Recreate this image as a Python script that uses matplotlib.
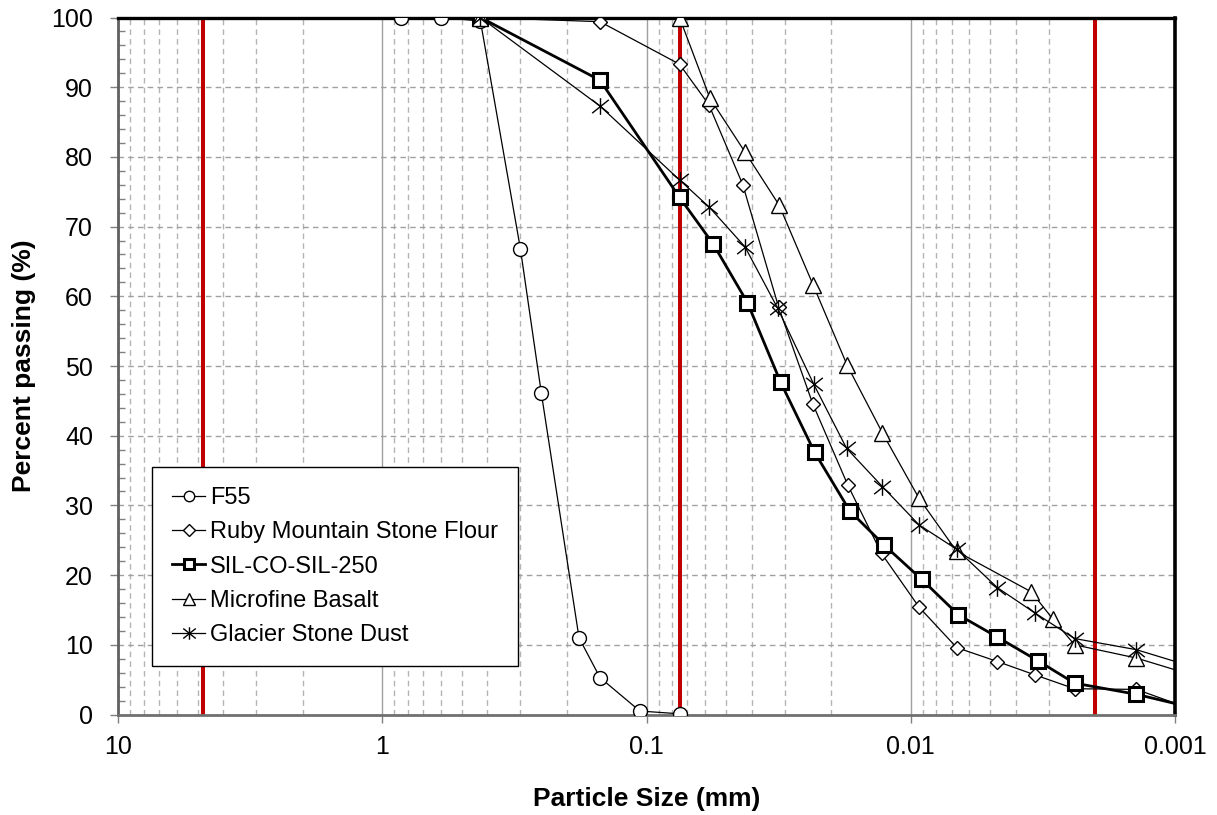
import numpy as np
import matplotlib
matplotlib.use("Agg")
import matplotlib.pyplot as plt
from matplotlib.path import Path
from matplotlib.ticker import FixedLocator, MultipleLocator, FuncFormatter

plt.rcParams['font.family'] = ['Liberation Sans', 'DejaVu Sans']

# sieve / hydrometer data (size in mm, percent passing)
f55_size = [0.85, 0.6, 0.425, 0.3, 0.25, 0.18, 0.15, 0.106, 0.075]
f55_pct = [100, 100, 99.5, 66.8, 46.1, 11.0, 5.3, 0.5, 0.1]

ruby_size = [0.425, 0.15, 0.075, 0.0581, 0.0432, 0.0316, 0.0235, 0.0173, 0.0129,
             0.0093, 0.0067, 0.0047, 0.0034, 0.0024, 0.0014, 0.0008]
ruby_pct = [100, 99.4, 93.3, 87.5, 76.0, 58.4, 44.6, 32.9, 23.1, 15.4, 9.6, 7.6,
            5.7, 3.7, 3.6, 0.3]

sil_size = [0.425, 0.15, 0.075, 0.0559, 0.0415, 0.0311, 0.0231, 0.0170, 0.0126,
            0.0091, 0.0066, 0.0047, 0.0033, 0.0024, 0.0014, 0.0008]
sil_pct = [100, 91.0, 74.2, 67.5, 59.1, 47.7, 37.6, 29.2, 24.3, 19.4, 14.3, 11.1,
           7.7, 4.5, 2.9, 0.7]

basalt_size = [0.425, 0.075, 0.0575, 0.0424, 0.0315, 0.0234, 0.0174, 0.0128,
               0.0093, 0.0067, 0.0035, 0.0029, 0.0024, 0.0014, 0.0008]
basalt_pct = [100, 100, 88.4, 80.7, 73.1, 61.6, 50.1, 40.4, 31.0, 23.4, 17.6,
              13.7, 10.0, 8.1, 5.3]

glacier_size = [0.425, 0.15, 0.075, 0.0579, 0.0424, 0.0319, 0.0233, 0.0175, 0.0128,
                0.0093, 0.0067, 0.0047, 0.0034, 0.0024, 0.0014, 0.0008]
glacier_pct = [100, 87.3, 76.7, 72.8, 67.1, 58.3, 47.4, 38.2, 32.7, 27.2, 23.7,
               18.2, 14.6, 10.9, 9.3, 6.5]

limit_sizes = [4.75, 0.075, 0.002]   # red reference lines

# excel style star: vertical bar plus an X
star = Path([(0, -1), (0, 1), (-1, -0.8), (1, 0.8), (-1, 0.8), (1, -0.8)],
            [Path.MOVETO, Path.LINETO, Path.MOVETO, Path.LINETO, Path.MOVETO, Path.LINETO])

fig = plt.figure(figsize=(12.17, 8.15), dpi=100)
ax = fig.add_axes([118/1217, 1-714.5/815, (1175-118)/1217, (714.5-17.5)/815])

for s in limit_sizes:
    ax.axvline(s, color='#C00000', lw=2.9, zorder=1.5)

ax.plot(f55_size, f55_pct, color='black', lw=0.9, marker='o', ms=10,
        mfc='white', mec='black', mew=1.0, label='F55', zorder=3)
ax.plot(ruby_size, ruby_pct, color='black', lw=0.9, marker='D', ms=7.5,
        mfc='white', mec='black', mew=1.0, label='Ruby Mountain Stone Flour', zorder=3)
ax.plot(sil_size, sil_pct, color='black', lw=2.0, marker='s', ms=10,
        mfc='white', mec='black', mew=2.2, label='SIL-CO-SIL-250', zorder=3)
ax.plot(basalt_size, basalt_pct, color='black', lw=0.9, marker='^', ms=11,
        mfc='white', mec='black', mew=1.0, label='Microfine Basalt', zorder=3)
ax.plot(glacier_size, glacier_pct, color='black', lw=0.9, marker=star, ms=12,
        mfc='none', mec='black', mew=1.0, label='Glacier Stone Dust', zorder=3)

ax.set_xscale('log')
ax.set_xlim(10, 0.001)
ax.set_ylim(0, 100)

ax.xaxis.set_major_locator(FixedLocator([10, 1, 0.1, 0.01, 0.001]))
ax.xaxis.set_major_formatter(FuncFormatter(lambda v, p: '%g' % v))
minors = [m * 10.0**e for e in range(-3, 1) for m in range(2, 10)]
ax.xaxis.set_minor_locator(FixedLocator(minors))
ax.xaxis.set_minor_formatter(FuncFormatter(lambda v, p: ''))
ax.yaxis.set_major_locator(MultipleLocator(10))
ax.yaxis.set_minor_locator(MultipleLocator(2))

ax.grid(which='major', axis='x', color='#a0a0a0', lw=1.0, ls='-', zorder=0)
ax.grid(which='minor', axis='x', color='#b4b4b4', lw=1.0, ls=(0, (4, 3)), zorder=0)
ax.grid(which='major', axis='y', color='#a0a0a0', lw=1.0, ls=(0, (4, 3)), zorder=0)
ax.set_axisbelow(True)

ax.tick_params(axis='both', which='major', direction='out', length=6, width=1,
               color='#808080', labelsize=18)
ax.tick_params(axis='y', which='major', pad=12)
ax.tick_params(axis='x', which='major', pad=9)
ax.tick_params(axis='x', which='minor', length=0)
ax.tick_params(axis='y', which='minor', direction='in', length=5, width=1, color='#808080')

ax.spines['top'].set_color('black')
ax.spines['top'].set_linewidth(2.4)
ax.spines['right'].set_color('black')
ax.spines['right'].set_linewidth(2.6)
ax.spines['left'].set_color('#606060')
ax.spines['left'].set_linewidth(2.0)
ax.spines['bottom'].set_color('#707070')
ax.spines['bottom'].set_linewidth(2.0)

ax.set_xlabel('Particle Size (mm)', fontsize=19, fontweight='bold', labelpad=20)
ax.set_ylabel('Percent passing (%)', fontsize=19, fontweight='bold', labelpad=11)

leg = ax.legend(loc='upper left', bbox_to_anchor=(152/1217, 1-467/815),
                bbox_transform=fig.transFigure, borderaxespad=0, fontsize=17,
                frameon=True, fancybox=False, framealpha=1, edgecolor='black',
                handlelength=1.4, handletextpad=0.22, labelspacing=0.52,
                borderpad=0.85, markerscale=0.75)
leg.get_frame().set_linewidth(1.0)
leg.set_zorder(5)

fig.savefig('out.png', dpi=100)
